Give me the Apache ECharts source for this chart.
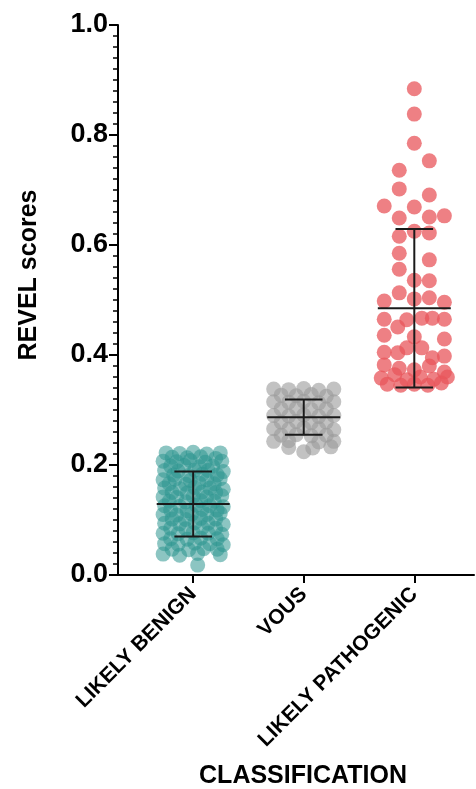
<!DOCTYPE html>
<html><head><meta charset="utf-8">
<script src="https://cdn.jsdelivr.net/npm/echarts@6/dist/echarts.min.js"></script>
<style>html,body{margin:0;padding:0;background:#fff}#c{width:476px;height:789px}</style>
</head><body><div id="c"></div>
<script>
// Categories
var categories = ['LIKELY BENIGN', 'VOUS', 'LIKELY PATHOGENIC'];
var yTicks = [0.0, 0.2, 0.4, 0.6, 0.8, 1.0];

// Beeswarm column offsets (in dot columns) and REVEL values, per group
var benignCols = [-1.8,-0.9,0,0.9,1.8, -1.4,-0.4,0.5,1.5, -2,-1.1,-0.2,0.8,1.9, -1.5,-0.6,0.4,1.3, -1.9,-1,0.1,1,2, -1.3,-0.3,0.6,1.6, -2,-1.2,-0.2,0.9,1.8, -1.6,-0.5,0.4,1.4, -1.9,-0.9,0.1,1.1,2, -1.4,-0.4,0.6,1.5, -2,-1.1,0,0.9,1.9, -1.6,-0.5,0.5,1.4, -1.9,-0.9,0.2,1.1,2, -1.5,-0.4,0.6,1.6, -2,-1.1,-0.1,0.9,1.8, -1.4,-0.5,0.5,1.5, -1.9,-0.9,0.1,1,2, -1.5,-0.5,0.6,1.5, -2,-1,0,1,1.9, -1.5,-0.4,0.5,1.6, -1.9,-1,0.1,1.1,2, -1.4,-0.3,0.7,1.6, -2,-0.9,0.3,1.8, 0.3];
var benignVals = [0.222,0.221,0.223,0.220,0.222, 0.214,0.213,0.215,0.212, 0.207,0.206,0.208,0.205,0.207, 0.198,0.199,0.197,0.198, 0.190,0.189,0.191,0.190,0.188, 0.182,0.181,0.183,0.182, 0.173,0.174,0.172,0.173,0.175, 0.166,0.165,0.167,0.166, 0.158,0.157,0.159,0.158,0.156, 0.150,0.149,0.151,0.150, 0.142,0.141,0.143,0.142,0.144, 0.134,0.133,0.135,0.134, 0.126,0.125,0.127,0.126,0.124, 0.118,0.117,0.119,0.118, 0.110,0.109,0.111,0.110,0.112, 0.102,0.101,0.103,0.102, 0.094,0.093,0.095,0.094,0.092, 0.085,0.084,0.086,0.085, 0.076,0.075,0.077,0.076,0.074, 0.066,0.065,0.067,0.066, 0.057,0.056,0.058,0.057,0.055, 0.047,0.046,0.048,0.047, 0.038,0.036,0.039,0.037, 0.018];

var vousCols = [-2,-1,0,1,2, -1.5,-0.5,0.5,1.5, -2,-1,0,1,2, -1.5,-0.5,0.5,1.5, -2,-1,0,1,2, -1.5,-0.5,0.5,1.5, -2,-1,0,1,2, -1.5,-0.5,0.5,1.5, -2,-1,1,2, -1,0.6,1.8, 0];
var vousVals = [0.338,0.337,0.339,0.336,0.338, 0.327,0.326,0.328,0.325, 0.315,0.314,0.316,0.313,0.315, 0.302,0.303,0.301,0.302, 0.290,0.289,0.291,0.288,0.290, 0.278,0.279,0.277,0.278, 0.266,0.265,0.267,0.266,0.264, 0.254,0.255,0.253,0.254, 0.243,0.244,0.242,0.243, 0.232,0.231,0.233, 0.224];

var pathoCols = [0, 0, 0, 1, -1, -1, 1, -2, 0, -1, 1, 2, 0, -1, 1, -1, 1, -1, 0, 1, -1, -2, 0, 1, 2, -2, -0.5, 0.5, 1.2, 2, -1.1, -2, 0, 2, -2, -1.1, -0.5, 0.5, 1.2, 2, -2, -1, 0, 1, 2, -2.2, -1.3, -0.5, 0.4, 1.3, 2.2, -1.8, -0.9, 0, 0.9, 1.8];
var pathoVals = [0.884, 0.838, 0.785, 0.753, 0.736, 0.702, 0.691, 0.671, 0.669, 0.649, 0.651, 0.653, 0.625, 0.616, 0.622, 0.585, 0.573, 0.556, 0.536, 0.535, 0.513, 0.498, 0.502, 0.504, 0.496, 0.465, 0.464, 0.467, 0.467, 0.465, 0.451, 0.436, 0.433, 0.429, 0.405, 0.404, 0.413, 0.413, 0.395, 0.398, 0.382, 0.376, 0.373, 0.380, 0.369, 0.358, 0.364, 0.355, 0.360, 0.356, 0.360, 0.347, 0.345, 0.347, 0.345, 0.349];

// Mean and SD per group
var means = [0.129, 0.287, 0.485];
var sds = [0.059, 0.032, 0.144];

var colStep = 0.136;
var FONT = "'Liberation Sans', Arial, Helvetica, sans-serif";

function pts(cols, vals, idx) {
  var out = [];
  for (var i = 0; i < vals.length; i++) out.push([idx + 1 + cols[i] * colStep, vals[i]]);
  return out;
}

var chart = echarts.init(document.getElementById('c'), null, {renderer: 'canvas'});
var errData = means.map(function (m, i) { return [i + 1, m, sds[i]]; });

chart.setOption({
  animation: false,
  backgroundColor: '#fff',
  grid: {left: 118, right: 2, top: 25, bottom: 214, containLabel: false},
  xAxis: {
    type: 'value', min: 0.32, max: 3.54,
    axisLine: {show: true, onZero: false, lineStyle: {color: '#000', width: 2}},
    axisTick: {show: true, customValues: [1, 2, 3], length: 8, lineStyle: {color: '#000', width: 2}},
    axisLabel: {
      customValues: [1, 2, 3], rotate: 45, margin: 16,
      fontSize: 21, fontWeight: 'bold', color: '#000', fontFamily: FONT,
      formatter: function (v) { return categories[Math.round(v) - 1] || ''; }
    },
    splitLine: {show: false}
  },
  yAxis: {
    type: 'value', min: 0, max: 1, interval: 0.2,
    axisLine: {show: true, lineStyle: {color: '#000', width: 2}},
    axisTick: {show: true, length: 9, lineStyle: {color: '#000', width: 2}},
    minorTick: {show: true, splitNumber: 10, length: 5, lineStyle: {color: '#000', width: 1.5}},
    axisLabel: {
      margin: 10, fontSize: 27, fontWeight: 'bold', color: '#000', fontFamily: FONT,
      formatter: function (v) { return v.toFixed(1); }
    },
    splitLine: {show: false}
  },
  graphic: [
    {type: 'text', x: 29, y: 275, rotation: Math.PI / 2,
     style: {text: 'REVEL scores', font: "bold 25px " + FONT, fill: '#000', textAlign: 'center', textVerticalAlign: 'middle'}},
    {type: 'text', x: 303, y: 776,
     style: {text: 'CLASSIFICATION', font: "bold 25px " + FONT, fill: '#000', textAlign: 'center', textVerticalAlign: 'middle'}}
  ],
  series: [
    {type: 'scatter', data: pts(benignCols, benignVals, 0), symbolSize: 15,
     itemStyle: {color: '#2e9690', opacity: 0.55}, z: 2},
    {type: 'scatter', data: pts(vousCols, vousVals, 1), symbolSize: 15,
     itemStyle: {color: '#999999', opacity: 0.6}, z: 2},
    {type: 'scatter', data: pts(pathoCols, pathoVals, 2), symbolSize: 15,
     itemStyle: {color: '#e8555b', opacity: 0.75}, z: 2},
    {type: 'custom', z: 5, data: errData,
     renderItem: function (params, api) {
       var x = api.value(0), m = api.value(1), s = api.value(2);
       var style = {stroke: '#1a1a1a', lineWidth: 2};
       function ln(a, b) {
         var p1 = api.coord(a), p2 = api.coord(b);
         return {type: 'line', shape: {x1: p1[0], y1: p1[1], x2: p2[0], y2: p2[1]}, style: style};
       }
       return {type: 'group', children: [
         ln([x, m - s], [x, m + s]),
         ln([x - 0.17, m + s], [x + 0.17, m + s]),
         ln([x - 0.17, m - s], [x + 0.17, m - s]),
         ln([x - 0.33, m], [x + 0.33, m])
       ]};
     }}
  ]
});
</script></body></html>
